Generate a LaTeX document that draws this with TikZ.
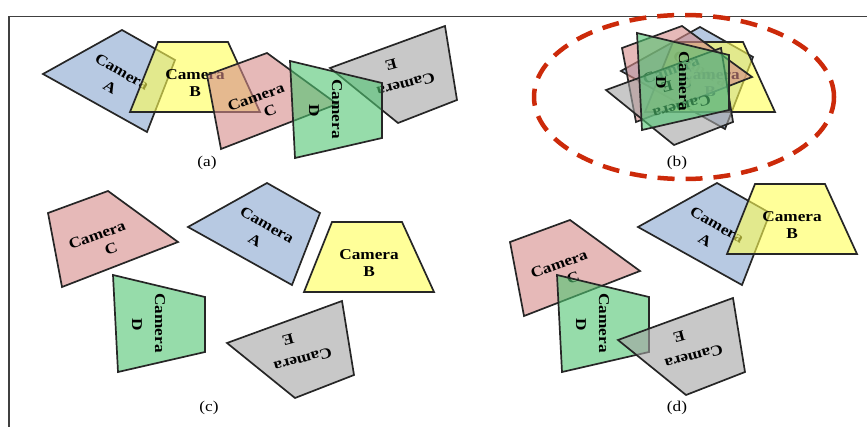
\documentclass[tikz,border=0pt]{standalone}
\usepackage{fontspec}
\setmainfont{Liberation Serif}
\newfontfamily\camfont[FakeStretch=1.15]{Liberation Serif}

\definecolor{camblue}{RGB}{135,165,207}
\definecolor{camyellow}{RGB}{255,255,85}
\definecolor{campink}{RGB}{213,138,137}
\definecolor{camgreen}{RGB}{80,197,113}
\definecolor{camgray}{RGB}{163,163,163}
\definecolor{zonered}{RGB}{204,42,10}

\tikzset{
  cam/.style={draw=black!85, line width=1.7pt, fill opacity=0.6},
  camtext/.style={font=\camfont\bfseries\fontsize{15}{17}\selectfont, inner sep=0pt},
  panel/.style={font=\camfont\fontsize{15}{17}\selectfont, inner sep=0pt},
  frame/.style={draw=black!75, line width=1.2pt},
  zone/.style={draw=zonered, line width=4.5pt, dash pattern=on 17pt off 11pt}
}

% one macro per camera footprint: #1 = panel tag, #2 = offset of the first corner
\newcommand{\camA}[2]{%
  \begin{scope}[shift={(#2)}]
    \filldraw[cam, fill=camblue] (0,0) -- (79,-44) -- (132,-14) -- (104,58) -- cycle;
    \node[camtext, rotate=-30] (camA#1) at (79,-2) {Camera};
    \node[camtext, rotate=-30] (letA#1) at (67,13) {A};
  \end{scope}}
\newcommand{\camB}[2]{%
  \begin{scope}[shift={(#2)}]
    \filldraw[cam, fill=camyellow] (0,0) -- (70,0) -- (102,70) -- (-28,70) -- cycle;
    \node[camtext] (camB#1) at (37,33) {Camera};
    \node[camtext] (letB#1) at (37,50) {B};
  \end{scope}}
\newcommand{\camC}[2]{%
  \begin{scope}[shift={(#2)}]
    \filldraw[cam, fill=campink] (0,0) -- (60,-22) -- (130,29) -- (14,74) -- cycle;
    \node[camtext, rotate=20] (camC#1) at (49,22) {Camera};
    \node[camtext, rotate=20] (letC#1) at (63,36) {C};
  \end{scope}}
\newcommand{\camD}[2]{%
  \begin{scope}[shift={(#2)}]
    \filldraw[cam, fill=camgreen] (0,0) -- (92,22) -- (92,77) -- (5,97) -- cycle;
    \node[camtext, rotate=-90] (camD#1) at (47,48) {Camera};
    \node[camtext, rotate=-90] (letD#1) at (24,50) {D};
  \end{scope}}
\newcommand{\camE}[2]{%
  \begin{scope}[shift={(#2)}]
    \filldraw[cam, fill=camgray] (0,0) -- (115,-42) -- (127,32) -- (68,55) -- cycle;
    \node[camtext, rotate=195] (camE#1) at (76,17) {Camera};
    \node[camtext, rotate=195] (letE#1) at (61,-3) {E};
  \end{scope}}

\begin{document}
\begin{tikzpicture}[x=1pt, y=-1pt]
  \useasboundingbox (0,0) rectangle (867,427);
  \draw[frame] (9,427) -- (9,16.5) -- (867,16.5);

  % (a) cameras in a row
  \camA{a}{43,74}
  \camB{a}{158,42}
  \camC{a}{207,75}
  \camE{a}{330,68}
  \camD{a}{290,61}
  \node[panel] (tagA) at (207,163) {(a)};

  % (b) all cameras stacked
  \camA{b}{621,71}
  \camB{b}{673,42}
  \camC{b}{622,48}
  \camE{b}{606,90}
  \camD{b}{637,33}
  \draw[zone] (684,97) ellipse [x radius=150pt, y radius=82pt];
  \node[panel] (tagB) at (677,163) {(b)};

  % (c) cameras apart
  \camC{c}{48,213}
  \camA{c}{188,227}
  \camB{c}{332,222}
  \camD{c}{113,275}
  \camE{c}{227,343}
  \node[panel] (tagC) at (209,408) {(c)};

  % (d) pairs overlapping
  \camC{d}{510,242}
  \camA{d}{638,227}
  \camB{d}{755,184}
  \camD{d}{557,275}
  \camE{d}{618,340}
  \node[panel] (tagD) at (677,408) {(d)};
\end{tikzpicture}
\end{document}
